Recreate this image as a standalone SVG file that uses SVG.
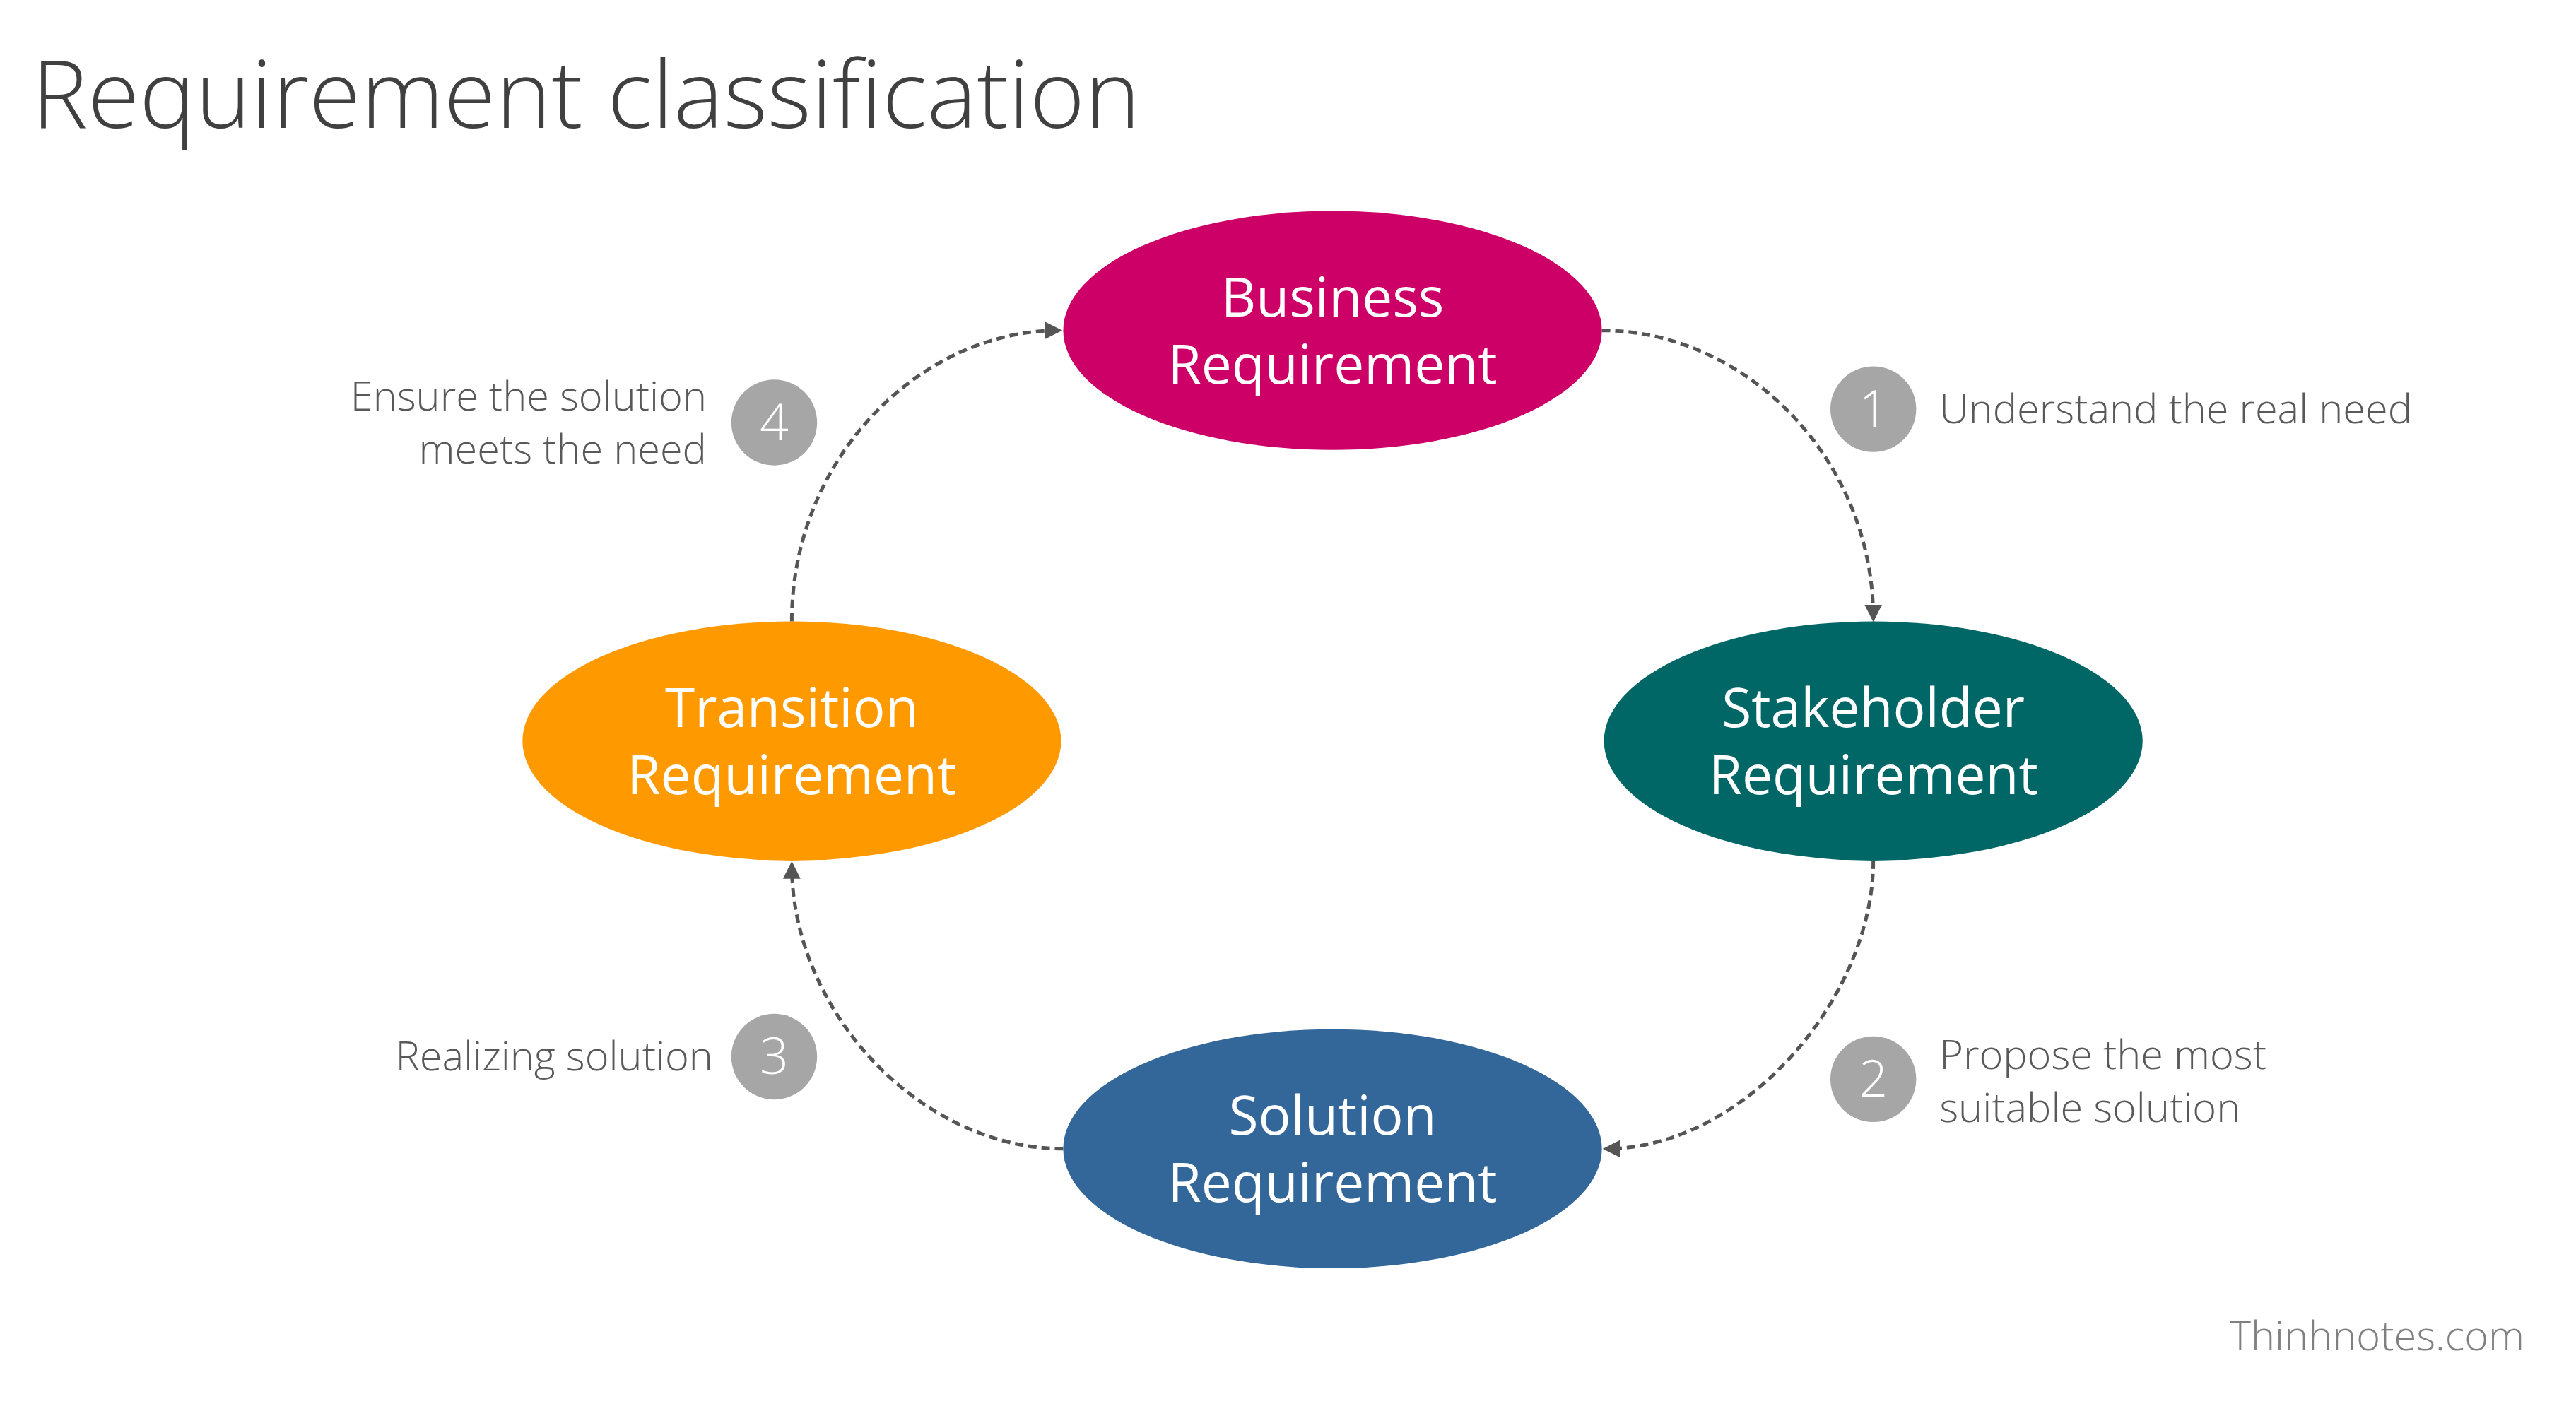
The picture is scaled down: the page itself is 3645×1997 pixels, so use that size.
<svg xmlns="http://www.w3.org/2000/svg" width="3645" height="1997" viewBox="0 0 3645 1997">
<style>
.t{font-family:"Open Sans","Liberation Sans",sans-serif}
.node{font-family:"Open Sans","Liberation Sans",sans-serif;font-size:77px;fill:#fff;text-anchor:middle}
.lbl{font-family:"Open Sans","Liberation Sans",sans-serif;font-size:58px;font-weight:300;fill:#595959}
.num{font-family:"Open Sans","Liberation Sans",sans-serif;font-size:72px;font-weight:300;fill:#fff;text-anchor:middle}
.c{fill:#A6A6A6}
.e{fill:none;stroke:#555;stroke-width:5;stroke-dasharray:12 7;marker-end:url(#ah)}
</style>
<defs>
<marker id="ah" viewBox="0 0 10 10" refX="8" refY="5" markerWidth="5" markerHeight="5" orient="auto" markerUnits="strokeWidth">
<path d="M0,0 L10,5 L0,10 z" fill="#555"/>
</marker>
</defs>
<rect width="3645" height="1997" fill="#fff"/>
<g transform="scale(0.995)">
<text class="t" x="45" y="182" font-size="134" font-weight="300" fill="#404040">Requirement classification</text>
<g id="connectors">
<path class="e" d="M2278,470 C2480,470 2664,650 2664,880"/>
<path class="e" d="M2664,1224 C2664,1420 2480,1634 2284,1634"/>
<path class="e" d="M1512,1634 C1310,1634 1126,1440 1126,1230"/>
<path class="e" d="M1126,884 C1126,650 1310,470 1506,470"/>
</g>
<g id="business"><ellipse cx="1895" cy="470" rx="383" ry="170" fill="#CC0066"/>
<text class="node" x="1895" y="450">Business</text><text class="node" x="1895" y="546">Requirement</text></g>
<g id="stakeholder"><ellipse cx="2664" cy="1054" rx="383" ry="170" fill="#006666"/>
<text class="node" x="2664" y="1034">Stakeholder</text><text class="node" x="2664" y="1130">Requirement</text></g>
<g id="solution"><ellipse cx="1895" cy="1634" rx="383" ry="170" fill="#336699"/>
<text class="node" x="1895" y="1614">Solution</text><text class="node" x="1895" y="1710">Requirement</text></g>
<g id="transition"><ellipse cx="1126" cy="1054" rx="383" ry="170" fill="#FF9900"/>
<text class="node" x="1126" y="1034">Transition</text><text class="node" x="1126" y="1130">Requirement</text></g>
<g id="step1"><circle class="c" cx="2664" cy="582" r="61"/><text class="num" x="2664" y="607">1</text>
<text class="lbl" x="2758" y="602">Understand the real need</text></g>
<g id="step2"><circle class="c" cx="2664" cy="1535" r="61"/><text class="num" x="2664" y="1560">2</text>
<text class="lbl" x="2758" y="1521">Propose the most</text><text class="lbl" x="2758" y="1596">suitable solution</text></g>
<g id="step3"><circle class="c" cx="1101" cy="1503" r="61"/><text class="num" x="1101" y="1528">3</text>
<text class="lbl" x="1014" y="1523" text-anchor="end">Realizing solution</text></g>
<g id="step4"><circle class="c" cx="1101" cy="601" r="61"/><text class="num" x="1101" y="626">4</text>
<text class="lbl" x="1005" y="584" text-anchor="end">Ensure the solution</text><text class="lbl" x="1005" y="659" text-anchor="end">meets the need</text></g>
<text class="lbl" x="3590" y="1921" text-anchor="end" style="fill:#808080">Thinhnotes.com</text>
</g>
</svg>
